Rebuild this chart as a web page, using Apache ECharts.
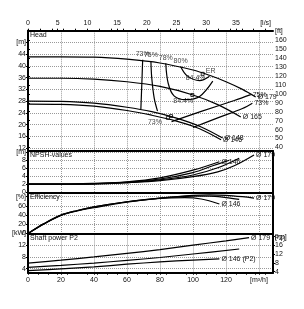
<!DOCTYPE html>
<html><head><meta charset="utf-8">
<script src="https://cdn.jsdelivr.net/npm/echarts@6/dist/echarts.min.js"></script>
<style>html,body{margin:0;padding:0;background:#fff}#c{width:304px;height:309px}</style>
</head><body><div id="c"></div>
<script>
// ---- data (Q in m3/h) ----
const qH179 = [0,20,40,60,80,100,110,120,130,138];
const h179  = [43.1,43.1,43.0,42.3,41.0,38.6,36.8,34.6,32.0,29.4];
const qH165 = [0,20,40,60,80,100,115,129];
const h165  = [35.8,35.8,35.5,34.6,33.0,30.1,26.8,22.6];
const qH148 = [0,20,40,60,75,90,105,118];
const h148  = [28.0,27.9,27.3,25.9,24.4,22.2,19.2,15.4];
const qH146 = [0,20,40,60,75,90,104,117];
const h146  = [27.0,26.9,26.3,24.8,23.2,21.2,18.6,14.8];

// iso-efficiency lines (Q, H)
const qE73L = [69.5,69.0,68.4];  const hE73L = [42.1,34.0,25.2];
const qE75L = [74.5,75.0,76.5,78.5]; const hE75L = [41.7,36.0,29.0,24.6];
const qE78  = [83.5,85.0,88.5,95.5,104,112]; const hE78 = [40.9,34.0,29.8,28.5,29.6,34.8];
const qE80  = [92.5,96.5,104,110]; const hE80 = [39.8,36.6,35.0,36.5];
const qE75R = [87,105,125,135]; const hE75R = [21.0,24.5,28.2,30.2];
const qE73R = [100,115,130,136]; const hE73R = [19.0,22.3,25.5,27.3];
const qMark = [105.9,99.6,84.8,86.7]; const hMark = [37.3,30.1,22.3,22.9];

const qN179 = [0,20,40,60,80,100,115,125,137]; const n179 = [1.9,1.9,2.0,2.3,2.8,3.8,5.0,6.5,9.2];
const qN165 = [0,20,40,60,80,100,115,128];     const n165 = [1.9,1.9,2.0,2.3,3.0,4.2,6.0,8.4];
const qN148 = [0,20,40,60,80,100,112,122];     const n148 = [1.9,1.9,2.0,2.4,3.2,4.8,6.5,7.9];
const qN146 = [0,20,40,60,80,100,116];         const n146 = [1.9,1.9,2.1,2.5,3.5,5.4,7.5];

const qE179 = [0,10,20,30,40,60,80,100,110,120,130,137]; const e179 = [0,22,40,50,58,69,77,83,84,83,80,77];
const qE165 = [0,10,20,30,40,60,80,100,110,120,128];     const e165 = [0,22,40,50,58,69,77,81,81,78,74];
const qE146 = [0,10,20,30,40,60,80,95,105,116];          const e146 = [0,21,39,49,56,68,76,78,75,64];

const qP179 = [0,20,40,60,80,100,120,134]; const p179 = [5.9,6.9,8.0,9.2,10.5,12.0,13.5,14.6];
const qP165 = [0,20,40,60,80,100,128];     const p165 = [4.4,5.1,5.9,6.8,7.8,9.0,10.7];
const qP146 = [0,20,40,60,80,100,116];     const p146 = [3.3,3.9,4.6,5.5,6.3,6.9,7.3];

const lsTicks = [0,5,10,15,20,25,30,35,40];
const m3Ticks = [0,20,40,60,80,100,120,140];
const headTicks = [12,16,20,24,28,32,36,40,44,48];
const ftTicks = [40,50,60,70,80,90,100,110,120,130,140,150,160,170];
const npshTicks = [0,2,4,6,8,10];
const effTicks = [0,20,40,60,80];
const kwTicks = [4,8,12,16];
const hpTicks = [4,8,12,16,20];

// ---- layout ----
const QMAX = 148.5;
const L = 28, R = 304-273;
const grids = [
  {top:30.7, height:120.3},
  {top:151, height:42},
  {top:193, height:40.5},
  {top:233.5, height:39.2}
];
const font = 'Liberation Sans, Arial, sans-serif';
const txt = {fontFamily:font, fontSize:7, color:'#111'};
const dot = {show:true, lineStyle:{color:'#999', type:[1,1], width:1}};
const zip = (a,b)=>a.map((v,i)=>[v,b[i]]);

function xAx(i, showLabels){
  return {type:'value', gridIndex:i, min:0, max:QMAX, position:'bottom',
    axisLine:{show:true, onZero:false, lineStyle:{color:'#000', width:2}},
    axisTick:{show:showLabels, length:2, lineStyle:{color:'#000'}, customValues:m3Ticks},
    minorTick:{show:showLabels, splitNumber:5, length:2, lineStyle:{color:'#000'}},
    splitLine:dot,
    axisLabel:{show:showLabels, ...txt, margin:4, customValues:m3Ticks,
      formatter:v=>v===140?'[m³/h]':String(v)}};
}
function yAx(i, min, max, ticks, unit, right){
  const top = ticks[ticks.length-1];
  return {type:'value', gridIndex:i, min, max, position:right?'right':'left',
    axisLine:{show:true, lineStyle:{color:'#000', width:2}},
    axisTick:{show:true, length:2, inside:false, lineStyle:{color:'#000'}, customValues:ticks},
    splitLine:right?{show:false}:dot,
    axisLabel:{...txt, margin:2, customValues:ticks, formatter:v=>v===top?unit:String(v)}};
}
const xAxes = [xAx(0,false), xAx(1,false), xAx(2,false), xAx(3,true),
  {type:'value', gridIndex:0, min:0, max:QMAX/3.6, position:'top',
    axisLine:{show:true, onZero:false, lineStyle:{color:'#000', width:2}},
    axisTick:{show:true, length:2, lineStyle:{color:'#000'}, customValues:lsTicks},
    minorTick:{show:true, splitNumber:5, length:2, lineStyle:{color:'#000'}},
    splitLine:{show:false},
    axisLabel:{...txt, margin:4, customValues:lsTicks, formatter:v=>v===40?'[l/s]':String(v)}}];
const FT = 3.28084, HP = 1/0.7457;
const yAxes = [
  yAx(0, 11, 52, headTicks, '[m]', false),
  yAx(0, 11*FT, 52*FT, ftTicks, '[ft]', true),
  yAx(1, -0.3, 10.2, npshTicks, '[m]', false),
  yAx(2, 0, 88, effTicks, '[%]', false),
  yAx(3, 2.6, 16, kwTicks, '[kW]', false),
  yAx(3, 2.6*HP, 16*HP, hpTicks, '[hp]', true)
];
[1,2].forEach(i=>yAxes.push({type:'value', gridIndex:i, position:'right', min:0, max:1,
  axisLine:{show:true, lineStyle:{color:'#000', width:2}}, axisTick:{show:false}, axisLabel:{show:false}, splitLine:{show:false}}));

const series = [];
function line(xi, yi, q, v, endText, w){
  series.push({type:'line', xAxisIndex:xi, yAxisIndex:yi, data:zip(q,v), smooth:0.35,
    showSymbol:false, symbol:'none', lineStyle:{color:'#000', width:w||1.2}, silent:true,
    endLabel:endText?{show:true, formatter:endText, ...txt, distance:2}:undefined});
}
line(0,0,qH179,h179,'Ø 179');
line(0,0,qH165,h165,'Ø 165');
line(0,0,qH148,h148,'Ø 148');
line(0,0,qH146,h146,'Ø 146');
line(0,0,qE73L,hE73L); line(0,0,qE75L,hE75L); line(0,0,qE78,hE78); line(0,0,qE80,hE80);
line(0,0,qE75R,hE75R,'75%'); line(0,0,qE73R,hE73R,'73%');
series.push({type:'scatter', xAxisIndex:0, yAxisIndex:0, data:zip(qMark,hMark), symbol:'rect', symbolSize:3,
  itemStyle:{color:'#fff', borderColor:'#000', borderWidth:1}, silent:true});
const labQ = [qE73L[0], qE75L[0], qE78[0], qE80[0], qMark[0], qMark[0], qMark[1], qMark[2]];
const labH = [hE73L[0], hE75L[0], hE78[0], hE80[0], hMark[0], hMark[0], hMark[1], hMark[2]];
const labT = ['73%','75%','78%','80%','ER','84.4%','84.4%','73%'];
const labP = ['top','top','top','top',[3,-6],[-17,1],[-19,3],[-20,1]];
series.push({type:'scatter', xAxisIndex:0, yAxisIndex:0, symbolSize:0, silent:true,
  data:labQ.map((q,i)=>({value:[q,labH[i]], label:{show:true, formatter:labT[i], position:labP[i], distance:2, ...txt}}))});

line(1,2,qN179,n179,'Ø 179'); line(1,2,qN165,n165); line(1,2,qN148,n148); line(1,2,qN146,n146,'Ø 146');
line(2,3,qE179,e179,'Ø 179'); line(2,3,qE165,e165); line(2,3,qE146,e146,'Ø 146');
line(3,4,qP179,p179,'Ø 179 (P2)'); line(3,4,qP165,p165); line(3,4,qP146,p146,'Ø 146 (P2)');

const titles = ['Head','NPSH-values','Efficiency','Shaft power P2'];
const chart = echarts.init(document.getElementById('c'), null, {renderer:'canvas'});
chart.setOption({
  animation:false,
  grid: grids.map(g=>({left:L, right:R, top:g.top, height:g.height, containLabel:false})),
  xAxis:xAxes, yAxis:yAxes, series,
  title: titles.map((t,i)=>({text:t, left:L+2, top:grids[i].top+1, padding:0,
    textStyle:{fontFamily:font, fontSize:7, fontWeight:'normal', color:'#111'}}))
});
</script></body></html>
